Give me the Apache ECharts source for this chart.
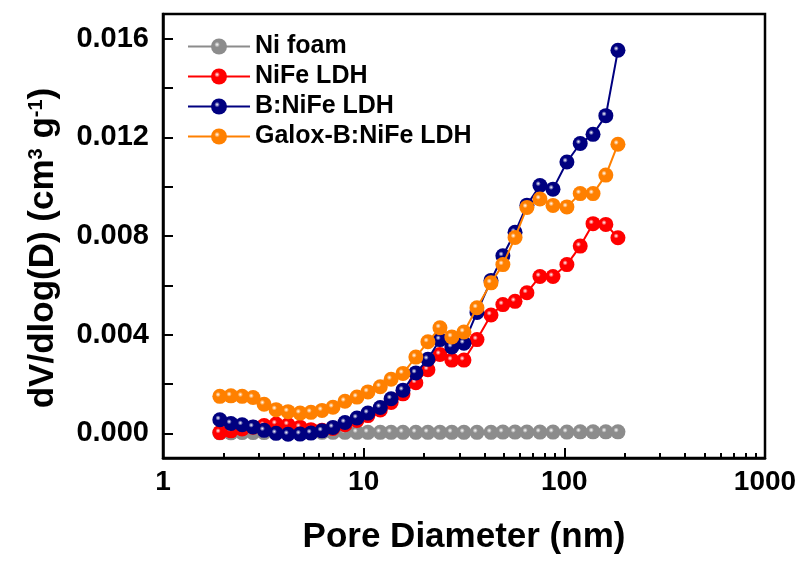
<!DOCTYPE html>
<html>
<head>
<meta charset="utf-8">
<script src="https://cdn.jsdelivr.net/npm/echarts@6/dist/echarts.min.js"></script>
<style>
  html, body { margin: 0; padding: 0; background: #fff; }
  #main { width: 802px; height: 561px; }
</style>
</head>
<body>
<div id="main"></div>
<script>
// pore diameter (nm), shared by all four curves
var poreDiameter = [1.92, 2.18, 2.48, 2.81, 3.19, 3.66, 4.20, 4.82, 5.46, 6.20, 7.03, 8.07,
  9.26, 10.5, 12.1, 13.7, 15.7, 18.2, 20.9, 24.0, 27.5, 31.6, 36.7, 43.1, 49.4, 56.8,
  65.1, 75.6, 87.8, 103, 120, 139, 161, 185];

var niFoam = [0.00002, 0.00002, 0.00003, 0.00003, 0.00003, 0.00003, 0.00003, 0.00003,
  0.00003, 0.00004, 0.00004, 0.00004, 0.00004, 0.00004, 0.00004, 0.00004, 0.00004,
  0.00004, 0.00004, 0.00004, 0.00004, 0.00004, 0.00004, 0.00004, 0.00005, 0.00005,
  0.00005, 0.00005, 0.00005, 0.00005, 0.00006, 0.00006, 0.00006, 0.00006];

var nife = [0.00003, 0.00010, 0.00018, 0.00025, 0.00032, 0.00038, 0.00035, 0.00025,
  0.00015, 0.00012, 0.00020, 0.00035, 0.00052, 0.00072, 0.00095, 0.00125, 0.00160,
  0.00205, 0.00258, 0.00320, 0.00297, 0.00297, 0.00380, 0.00480, 0.00522, 0.00535,
  0.00570, 0.00636, 0.00636, 0.00684, 0.00759, 0.00850, 0.00847, 0.00793];

var bNife = [0.00055, 0.00040, 0.00035, 0.00026, 0.00012, 0.00000, -0.00004, -0.00003,
  0.00001, 0.00010, 0.00024, 0.00044, 0.00062, 0.00082, 0.00105, 0.00140, 0.00175,
  0.00245, 0.00300, 0.00380, 0.00350, 0.00365, 0.00490, 0.00620, 0.00720, 0.00815,
  0.00925, 0.01005, 0.00990, 0.01100, 0.01175, 0.01212, 0.01288, 0.01553];

var galox = [0.00150, 0.00152, 0.00150, 0.00145, 0.00118, 0.00096, 0.00088, 0.00082,
  0.00085, 0.00093, 0.00106, 0.00130, 0.00147, 0.00168, 0.00189, 0.00219, 0.00243,
  0.00309, 0.00371, 0.00428, 0.00391, 0.00411, 0.00509, 0.00610, 0.00684, 0.00794,
  0.00916, 0.00950, 0.00924, 0.00918, 0.00972, 0.00972, 0.01047, 0.01172];

var seriesNames = ['Ni foam', 'NiFe LDH', 'B:NiFe LDH', 'Galox-B:NiFe LDH'];
var seriesColors = ['#8c8c8c', '#ff0000', '#000080', '#ff8000'];
var seriesValues = [niFoam, nife, bNife, galox];

var yLabelValues = [0, 0.004, 0.008, 0.012, 0.016];
var yTickValues = [0, 0.002, 0.004, 0.006, 0.008, 0.010, 0.012, 0.014, 0.016];

var FONT = '"Liberation Sans", Arial, sans-serif';

function ball(c) {
  return new echarts.graphic.RadialGradient(0.38, 0.38, 0.62, [
    { offset: 0, color: '#ffffff' },
    { offset: 0.28, color: c },
    { offset: 1, color: c }
  ]);
}

var myChart = echarts.init(document.getElementById('main'));

var series = seriesNames.map(function (name, i) {
  return {
    name: name,
    type: 'line',
    symbol: 'circle',
    symbolSize: 15,
    lineStyle: { color: seriesColors[i], width: 2 },
    itemStyle: { color: ball(seriesColors[i]), borderWidth: 0 },
    data: poreDiameter.map(function (d, k) { return [d, seriesValues[i][k]]; }),
    z: 2 + i
  };
});

myChart.setOption({
  animation: false,
  grid: {
    left: 163, right: 37, top: 14, bottom: 103,
    show: true, borderColor: '#000', borderWidth: 2.5
  },
  legend: {
    left: 182, top: 29,
    orient: 'vertical',
    itemWidth: 62, itemHeight: 20, itemGap: 5,
    textStyle: { fontFamily: FONT, fontWeight: 'bold', fontSize: 25, color: '#000' },
    data: seriesNames
  },
  xAxis: {
    type: 'log',
    logBase: 10,
    min: 1, max: 1000,
    name: 'Pore Diameter (nm)',
    nameLocation: 'middle',
    nameGap: 62,
    nameTextStyle: { fontFamily: FONT, fontWeight: 'bold', fontSize: 35, color: '#000' },
    axisLine: { onZero: false, lineStyle: { color: '#000', width: 2.5 } },
    axisTick: { inside: true, length: 10, lineStyle: { color: '#000', width: 2 } },
    minorTick: { show: true, splitNumber: 9, length: 5, lineStyle: { color: '#000', width: 2 } },
    axisLabel: {
      fontFamily: FONT, fontWeight: 'bold', fontSize: 28, color: '#000', margin: 10,
      formatter: function (v) { return String(v); }
    },
    splitLine: { show: false }
  },
  yAxis: {
    type: 'value',
    min: -0.001, max: 0.017,
    name: '{a|dV/dlog(D) (cm}{s|3}{a| g}{s|-1}{a|)}',
    nameLocation: 'middle',
    nameGap: 102,
    nameTextStyle: {
      padding: [0, 24, 0, 0],
      rich: {
        a: { fontFamily: FONT, fontWeight: 'bold', fontSize: 35, color: '#000' },
        s: { fontFamily: FONT, fontWeight: 'bold', fontSize: 20, color: '#000', verticalAlign: 'top' }
      }
    },
    axisLine: { show: true, onZero: false, lineStyle: { color: '#000', width: 2.5 } },
    axisTick: { inside: true, length: 10, customValues: yTickValues, lineStyle: { color: '#000', width: 2 } },
    axisLabel: {
      customValues: yLabelValues,
      fontFamily: FONT, fontWeight: 'bold', fontSize: 29, color: '#000', margin: 14,
      formatter: function (v) { return v.toFixed(3); }
    },
    splitLine: { show: false }
  },
  series: series
});
</script>
</body>
</html>
